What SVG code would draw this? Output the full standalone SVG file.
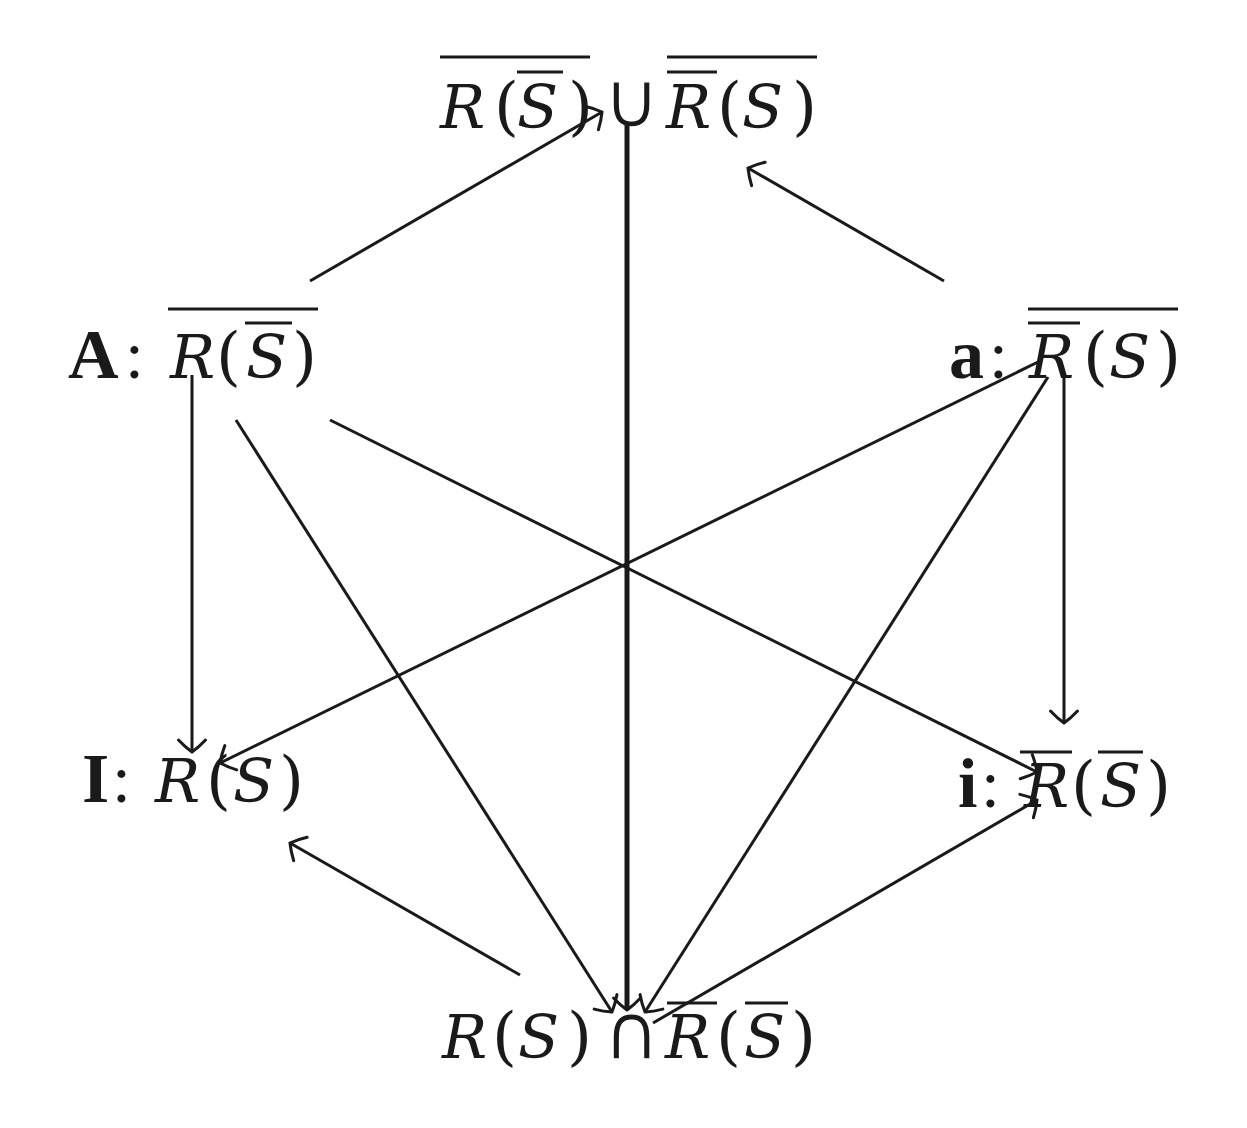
<svg xmlns="http://www.w3.org/2000/svg" width="1247" height="1128" viewBox="0 0 1247 1128">
<style>
text{font-family:"DejaVu Serif","Liberation Serif",serif;font-size:60px;fill:#1a1a1a}
.i{font-style:italic}
.p{font-size:64px}
.b{font-family:"Liberation Serif","DejaVu Serif",serif;font-weight:bold;font-size:70px}
.c{font-family:"Liberation Serif","DejaVu Serif",serif;font-size:68px}
.op{font-family:"DejaVu Sans",sans-serif;font-size:78px;stroke:#fff;stroke-width:1.4}
.bar{stroke:#1a1a1a;stroke-width:3.2}
.e{stroke:#1a1a1a;stroke-width:3;fill:none;marker-end:url(#to)}
</style>
<defs>
<marker id="to" markerUnits="userSpaceOnUse" orient="auto" viewBox="-16 -16 20 32" refX="0" refY="0" markerWidth="20" markerHeight="32" overflow="visible">
<path d="M-12,-13.5 Q-5,-7 0,0 Q-5,7 -12,13.5" fill="none" stroke="#1a1a1a" stroke-width="3" stroke-linecap="round"/>
</marker>
</defs>
<rect width="1247" height="1128" fill="#fff"/>
<g id="top">
<text y="128"><tspan class="i" x="440">R</tspan><tspan class="p" x="494">(</tspan><tspan class="i" x="517">S</tspan><tspan class="p" x="568">)</tspan><tspan class="i" x="666">R</tspan><tspan class="p" x="717">(</tspan><tspan class="i" x="742">S</tspan><tspan class="p" x="792">)</tspan></text>
<text class="op" x="603" y="127">∪</text>
<line class="bar" x1="440" y1="57" x2="590" y2="57"/>
<line class="bar" x1="517" y1="72" x2="563" y2="72"/>
<line class="bar" x1="667" y1="57" x2="817" y2="57"/>
<line class="bar" x1="667" y1="72" x2="717" y2="72"/>
</g>
<g id="bottom">
<text y="1058"><tspan class="i" x="442">R</tspan><tspan class="p" x="492">(</tspan><tspan class="i" x="518">S</tspan><tspan class="p" x="567">)</tspan><tspan class="i" x="665">R</tspan><tspan class="p" x="716">(</tspan><tspan class="i" x="744">S</tspan><tspan class="p" x="791">)</tspan></text>
<text class="op" x="603" y="1059">∩</text>
<line class="bar" x1="667" y1="1003" x2="717" y2="1003"/>
<line class="bar" x1="745" y1="1003" x2="788" y2="1003"/>
</g>
<g id="connectors">
<line class="e" x1="310" y1="281" x2="602" y2="112"/>
<line class="e" x1="944" y1="281" x2="748" y2="168"/>
<line class="e" x1="627" y1="122" x2="627" y2="1010" style="stroke-width:5"/>
<line class="e" x1="192" y1="375" x2="192" y2="752"/>
<line class="e" x1="1064" y1="375" x2="1064" y2="723"/>
<line class="e" x1="236" y1="420" x2="612" y2="1012"/>
<line class="e" x1="330" y1="420" x2="1037" y2="772"/>
<line class="e" x1="1038" y1="362" x2="220" y2="763"/>
<line class="e" x1="1048" y1="377" x2="645" y2="1012"/>
<line class="e" x1="653" y1="1023" x2="1037" y2="800"/>
<line class="e" x1="520" y1="975" x2="290" y2="843"/>
</g>
<g id="A">
<text y="378"><tspan class="b" x="68">A</tspan><tspan class="c" x="125">:</tspan><tspan class="i" x="170">R</tspan><tspan class="p" x="216">(</tspan><tspan class="i" x="246">S</tspan><tspan class="p" x="292">)</tspan></text>
<line class="bar" x1="168" y1="309" x2="318" y2="309"/>
<line class="bar" x1="245" y1="323" x2="292" y2="323"/>
</g>
<g id="a">
<text y="378"><tspan class="b" x="949">a</tspan><tspan class="c" x="989">:</tspan><tspan class="i" x="1029">R</tspan><tspan class="p" x="1083">(</tspan><tspan class="i" x="1109">S</tspan><tspan class="p" x="1156">)</tspan></text>
<line class="bar" x1="1028" y1="309" x2="1178" y2="309"/>
<line class="bar" x1="1028" y1="323" x2="1080" y2="323"/>
</g>
<g id="I">
<text y="802"><tspan class="b" x="82">I</tspan><tspan class="c" x="112">:</tspan><tspan class="i" x="155">R</tspan><tspan class="p" x="206">(</tspan><tspan class="i" x="233">S</tspan><tspan class="p" x="279">)</tspan></text>
</g>
<g id="i">
<text y="807"><tspan class="b" x="958">i</tspan><tspan class="c" x="981">:</tspan><tspan class="i" x="1024">R</tspan><tspan class="p" x="1071">(</tspan><tspan class="i" x="1100">S</tspan><tspan class="p" x="1146">)</tspan></text>
<line class="bar" x1="1020" y1="752" x2="1072" y2="752"/>
<line class="bar" x1="1098" y1="752" x2="1143" y2="752"/>
</g>
</svg>
